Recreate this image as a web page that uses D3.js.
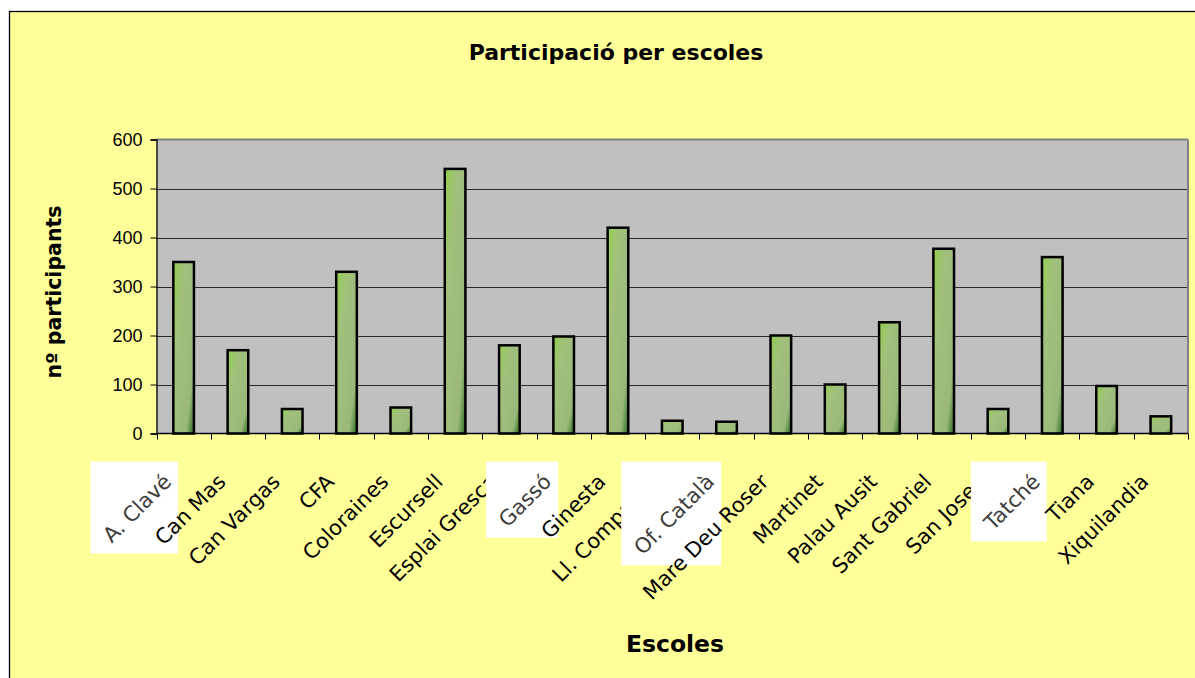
<!DOCTYPE html>
<html><head><meta charset="utf-8">
<script src="https://cdnjs.cloudflare.com/ajax/libs/d3/7.8.5/d3.min.js"></script>
<style>html,body{margin:0;padding:0;background:#fff;} svg{display:block}</style>
</head><body><svg id="chart" width="1195" height="678"></svg>
<script>
const categories = ["A. Clavé","Can Mas","Can Vargas","CFA","Coloraines","Escursell","Esplai Gresca","Gassó","Ginesta","Ll. Companys","Of. Català","Mare Deu Roser","Martinet","Palau Ausit","Sant Gabriel","San Josep","Tatché","Tiana","Xiquilandia"];
const participants = [350,170,50,330,53,540,180,198,420,26,24,200,100,227,377,50,360,97,35];
const yTicks = [0,100,200,300,400,500,600];
const highlighted = ["A. Clavé","Gassó","Of. Català","Tatché"];
const chartTitle = "Participació per escoles";
const xTitle = "Escoles";
const yTitle = "nº participants";

const svg = d3.select("#chart");
const W = 1195, H = 678;
const plot = {left:156.5, right:1188, top:139.5, bottom:433.5};
const comic = "'Comic Sans MS','DejaVu Sans',sans-serif";

// gradient
const defs = svg.append("defs");
const g1 = defs.append("linearGradient").attr("id","barGrad")
  .attr("x1","0").attr("y1","0").attr("x2","1").attr("y2","1");
g1.append("stop").attr("offset","0%").attr("stop-color","#92cf4e");
g1.append("stop").attr("offset","30%").attr("stop-color","#a2c07c");
g1.append("stop").attr("offset","80%").attr("stop-color","#9ab878");
g1.append("stop").attr("offset","100%").attr("stop-color","#276b1f");

// outer frame
svg.append("rect").attr("x",0).attr("y",0).attr("width",W).attr("height",H).attr("fill","#fff");
svg.append("rect").attr("x",9.5).attr("y",11.5).attr("width",W+20).attr("height",H+20)
  .attr("fill","#ffff99").attr("stroke","#000").attr("stroke-width",1.3);

const x = d3.scaleBand().domain(categories).range([plot.left, plot.right])
  .paddingInner(0.62).paddingOuter(0.31);
const y = d3.scaleLinear().domain([0,600]).range([plot.bottom, plot.top]);
const step = x.step();

// plot area background
svg.append("rect").attr("x",plot.left).attr("y",plot.top)
  .attr("width",plot.right-plot.left).attr("height",plot.bottom-plot.top)
  .attr("fill","#c0c0c0");

// gridlines
svg.append("g").selectAll("line").data(yTicks.filter(d=>d>0 && d<600)).join("line")
  .attr("x1",plot.left).attr("x2",plot.right)
  .attr("y1",d=>Math.round(y(d))+0.5).attr("y2",d=>Math.round(y(d))+0.5)
  .attr("stroke","#2a2a2a").attr("stroke-width",1);
// top & right border
svg.append("line").attr("x1",plot.left).attr("x2",plot.right).attr("y1",plot.top).attr("y2",plot.top)
  .attr("stroke","#808080").attr("stroke-width",2);
svg.append("line").attr("x1",plot.right).attr("x2",plot.right).attr("y1",plot.top).attr("y2",plot.bottom)
  .attr("stroke","#808080").attr("stroke-width",2);

// bars
svg.append("g").selectAll("rect").data(categories).join("rect")
  .attr("x",d=>x(d)).attr("width",x.bandwidth())
  .attr("y",(d,i)=>y(participants[i])).attr("height",(d,i)=>y(0)-y(participants[i]))
  .attr("fill","url(#barGrad)").attr("stroke","#000").attr("stroke-width",2.5);

// y axis
const yAxis = d3.axisLeft(y).tickValues(yTicks).tickSize(6).tickPadding(8);
const ya = svg.append("g").attr("transform",`translate(${plot.left},0)`).call(yAxis);
ya.select(".domain").attr("stroke","#000").attr("stroke-width",1.3);
ya.selectAll(".tick line").attr("stroke","#000");
ya.selectAll(".tick text").attr("font-family","'Liberation Sans',Arial,sans-serif")
  .attr("font-size",18).attr("fill","#000");

// x axis line & boundary ticks
svg.append("line").attr("x1",plot.left).attr("x2",plot.right).attr("y1",plot.bottom).attr("y2",plot.bottom)
  .attr("stroke","#000").attr("stroke-width",1.3);
const bounds = categories.map(c=>x(c) - step*x.paddingInner()/2).concat([plot.right]);
svg.append("g").selectAll("line").data(bounds).join("line")
  .attr("x1",d=>Math.round(d)+0.5).attr("x2",d=>Math.round(d)+0.5)
  .attr("y1",plot.bottom).attr("y2",plot.bottom+6).attr("stroke","#000");

// x labels, drawn in order (highlighted ones sit on a white box)
const lblSize = 21;
const lx = d => x(d) + x.bandwidth()/2 - 11;
const ly = 483;
const lg = svg.append("g");
categories.forEach(name=>{
  const grp = lg.append("g");
  const isHi = highlighted.includes(name);
  const rect = isHi ? grp.append("rect").attr("fill","#fff") : null;
  const t = grp.append("text")
    .attr("transform",`translate(${lx(name)},${ly}) rotate(-45)`)
    .attr("text-anchor","end").attr("font-family",comic).attr("font-size",lblSize)
    .attr("fill",isHi ? "#3c3c3c" : "#000").text(name);
  if (isHi) {
    const b = t.node().getBoundingClientRect();
    const top = b.top - 8, left = b.left - 8, right = b.right + 2, bottom = b.bottom + 6;
    rect.attr("x",left).attr("y",top).attr("width",right-left).attr("height",bottom-top);
  }
});

// titles
svg.append("text").attr("x",616).attr("y",60).attr("text-anchor","middle")
  .attr("font-family",comic).attr("font-weight","bold").attr("font-size",22).text(chartTitle);
svg.append("text").attr("x",675).attr("y",652).attr("text-anchor","middle")
  .attr("font-family",comic).attr("font-weight","bold").attr("font-size",23.5).text(xTitle);
svg.append("text").attr("transform","translate(61,292) rotate(-90)").attr("text-anchor","middle")
  .attr("font-family",comic).attr("font-weight","bold").attr("font-size",20.5).text(yTitle);
</script></body></html>
